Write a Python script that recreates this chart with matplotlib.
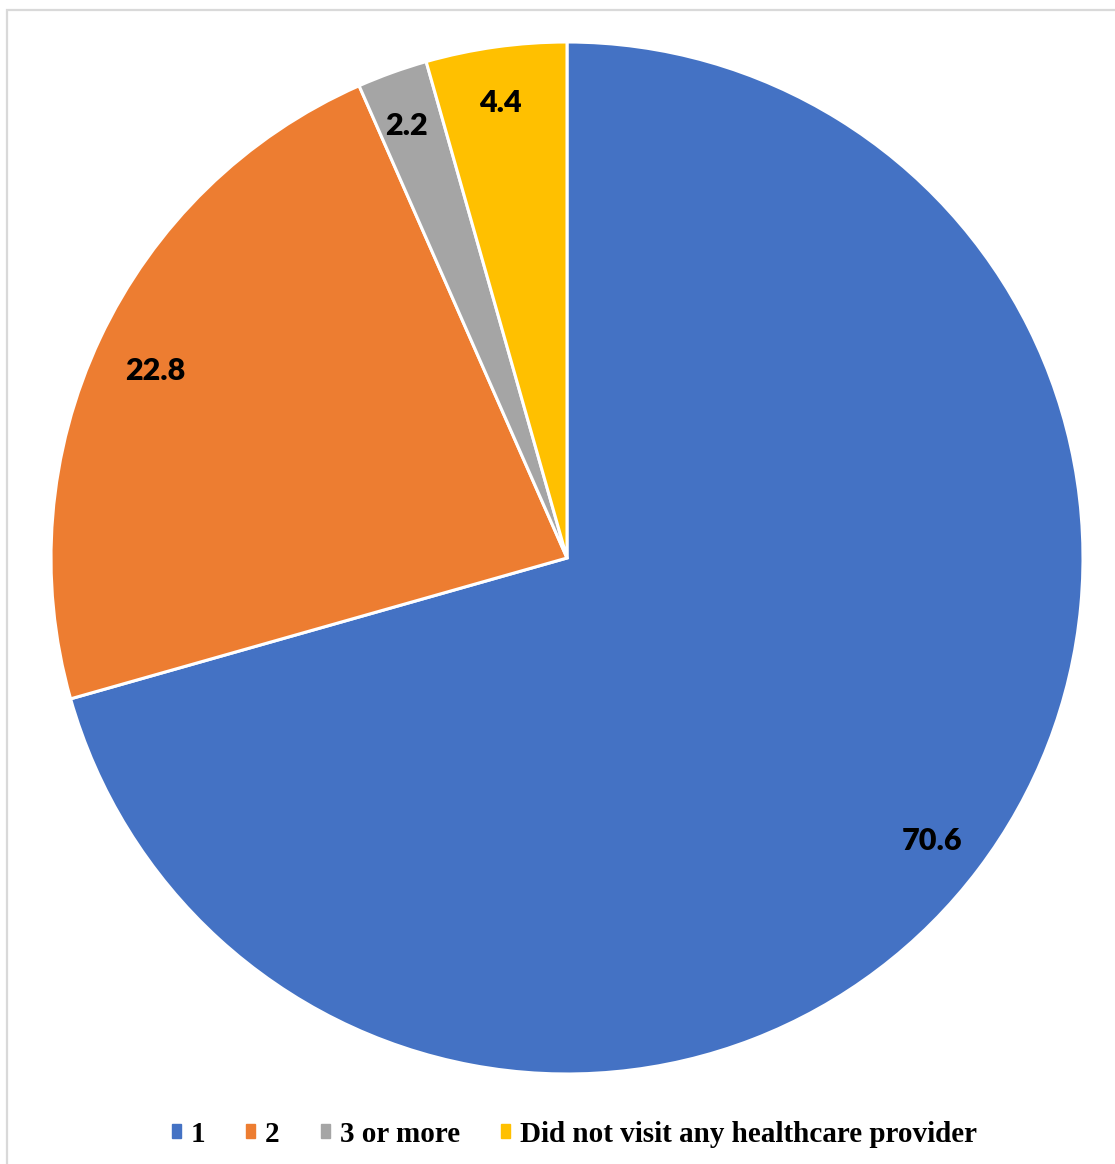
import numpy as np
import matplotlib
matplotlib.use("Agg")
import matplotlib.pyplot as plt
from matplotlib.patches import Rectangle
from matplotlib.transforms import offset_copy

categories = ["1", "2", "3 or more", "Did not visit any healthcare provider"]
values = [70.6, 22.8, 2.2, 4.4]
colors = ["#4472C4", "#ED7D31", "#A5A5A5", "#FFC000"]
label_dist = [0.895, 0.875, 0.90, 0.90]

W, H = 1115, 1164
fig = plt.figure(figsize=(W / 100, H / 100), dpi=100)

# light grey frame around the chart area
fig.patches.append(Rectangle((6.5 / W, -0.01), 1.1, (H - 9.5) / H + 0.01,
                             transform=fig.transFigure, fill=False,
                             edgecolor="#D9D9D9", linewidth=1.6))

cx, cy, r = 567, 558, 516
ax = fig.add_axes([(cx - r) / W, (H - cy - r) / H, 2 * r / W, 2 * r / H])
wedges, _ = ax.pie(values, colors=colors, startangle=90, counterclock=False,
                   radius=1.0,
                   wedgeprops=dict(edgecolor="white", linewidth=2.2))
ax.set_xlim(-1, 1)
ax.set_ylim(-1, 1)
ax.set_aspect("equal")
ax.axis("off")

# value labels inside each slice, nudged slightly down-left of the radial point
label_tr = offset_copy(ax.transData, fig=fig, x=-3, y=-5, units="dots")
for w, v, d in zip(wedges, values, label_dist):
    ang = np.deg2rad((w.theta1 + w.theta2) / 2)
    ax.text(d * np.cos(ang), d * np.sin(ang), f"{v:.1f}", transform=label_tr,
            ha="center", va="center", fontsize=22, fontweight="heavy",
            family="Lato", color="black")

handles = [Rectangle((0, 0), 1, 1, color=c) for c in colors]
fig.legend(handles, categories, loc="center", bbox_to_anchor=(0.515, 1 - 1134 / H),
           ncol=4, frameon=False, handlelength=0.31, handleheight=0.35,
           handletextpad=0.34, columnspacing=1.4,
           prop=dict(family="Liberation Serif", weight="bold", size=21))

fig.savefig("out.png", dpi=100)
